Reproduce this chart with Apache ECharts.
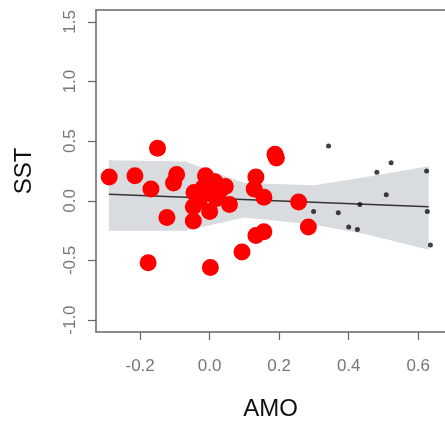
<!DOCTYPE html>
<html>
<head>
<meta charset="utf-8">
<script src="https://cdn.jsdelivr.net/npm/echarts@6/dist/echarts.min.js"></script>
<style>html,body{margin:0;padding:0;background:#fff}#c{width:445px;height:426px}</style>
</head>
<body>
<div id="c"></div>
<script>
// Red points (AMO, SST)
var redPoints = [
  [-0.289,0.20],[-0.215,0.21],[-0.169,0.10],[-0.150,0.44],[-0.177,-0.52],
  [-0.123,-0.14],[-0.095,0.22],[-0.104,0.15],[-0.045,0.07],[-0.047,-0.05],
  [-0.047,-0.17],[-0.012,0.21],[-0.019,0.11],[0.000,-0.09],[0.002,-0.56],
  [0.015,0.16],[0.028,0.08],[0.045,0.12],[0.057,-0.03],[0.009,0.05],
  [0.093,-0.43],[0.133,0.20],[0.128,0.10],[0.156,0.03],[0.133,-0.29],
  [0.156,-0.26],[0.188,0.39],[0.192,0.36],[0.256,-0.01],[0.284,-0.22],
  [-0.030,0.00],[0.020,0.02]
];
// Black points
var blackPoints = [
  [0.342,0.46],[0.299,-0.09],[0.370,-0.10],[0.400,-0.22],[0.425,-0.24],
  [0.432,-0.03],[0.481,0.24],[0.522,0.32],[0.508,0.05],[0.624,0.25],
  [0.626,-0.09],[0.635,-0.37]
];
// Regression line
var fitX = [-0.29, 0.63];
var fitY = [0.055, -0.05];
// Confidence band
var bandX = [-0.29, -0.07, 0.10, 0.30, 0.45, 0.63];
var bandUpper = [0.34, 0.33, 0.15, 0.13, 0.20, 0.29];
var bandLower = [-0.25, -0.25, -0.14, -0.20, -0.28, -0.41];
// Ticks
var xTicks = [-0.2, 0.0, 0.2, 0.4, 0.6];
var yTicks = [-1.0, -0.5, 0.0, 0.5, 1.0, 1.5];

var chart = echarts.init(document.getElementById('c'), null, {renderer:'canvas'});
var fitData = fitX.map(function(x,i){return [x, fitY[i]];});
var axisCol = '#666';
var font = 'Liberation Sans, Arial';
chart.setOption({
  animation:false,
  backgroundColor:'#fff',
  grid:{left:96, top:10, width:352, height:331, show:false},
  xAxis:[{
    type:'value', min:-0.327, max:0.677, position:'bottom',
    name:'AMO', nameLocation:'middle', nameGap:65,
    nameTextStyle:{fontFamily:font, fontSize:24, color:'#111'},
    axisLine:{show:true, onZero:false, lineStyle:{color:axisCol, width:1.5}},
    splitLine:{show:false},
    axisTick:{show:true, length:8, lineStyle:{color:axisCol, width:1.2}, customValues:xTicks},
    axisLabel:{customValues:xTicks, margin:26, fontFamily:font, fontSize:17, color:'#777',
      formatter:function(v){return v.toFixed(1);}}
  },{
    type:'value', min:-0.327, max:0.677, position:'top',
    axisLine:{show:true, onZero:false, lineStyle:{color:axisCol, width:1.5}},
    splitLine:{show:false}, axisTick:{show:false}, axisLabel:{show:false}
  }],
  yAxis:{
    type:'value', min:-1.1, max:1.6,
    name:'SST', nameLocation:'middle', nameGap:60, nameRotate:90,
    nameTextStyle:{fontFamily:font, fontSize:24, color:'#111'},
    axisLine:{show:true, onZero:false, lineStyle:{color:axisCol, width:1.5}},
    splitLine:{show:false},
    axisTick:{show:true, length:8, lineStyle:{color:axisCol, width:1.2}, customValues:yTicks},
    axisLabel:{customValues:yTicks, rotate:90, margin:17, fontFamily:font, fontSize:17, color:'#777',
      formatter:function(v){return v.toFixed(1);}}
  },
  series:[
    {
      type:'custom', z:1, silent:true,
      data:[0],
      renderItem:function(params, api){
        var pts = [];
        for (var i=0;i<bandX.length;i++) pts.push(api.coord([bandX[i], bandUpper[i]]));
        for (var j=bandX.length-1;j>=0;j--) pts.push(api.coord([bandX[j], bandLower[j]]));
        return {type:'polygon', shape:{points:pts}, style:{fill:'rgba(195,202,204,0.65)'}};
      }
    },
    {
      type:'line', z:2, data:fitData, symbol:'none',
      lineStyle:{color:'#333', width:1.5}
    },
    {
      type:'scatter', z:3, data:redPoints, symbolSize:17,
      itemStyle:{color:'#ff0000', opacity:1}
    },
    {
      type:'scatter', z:4, data:blackPoints, symbolSize:5,
      itemStyle:{color:'#111'}
    }
  ]
});
</script>
</body>
</html>
